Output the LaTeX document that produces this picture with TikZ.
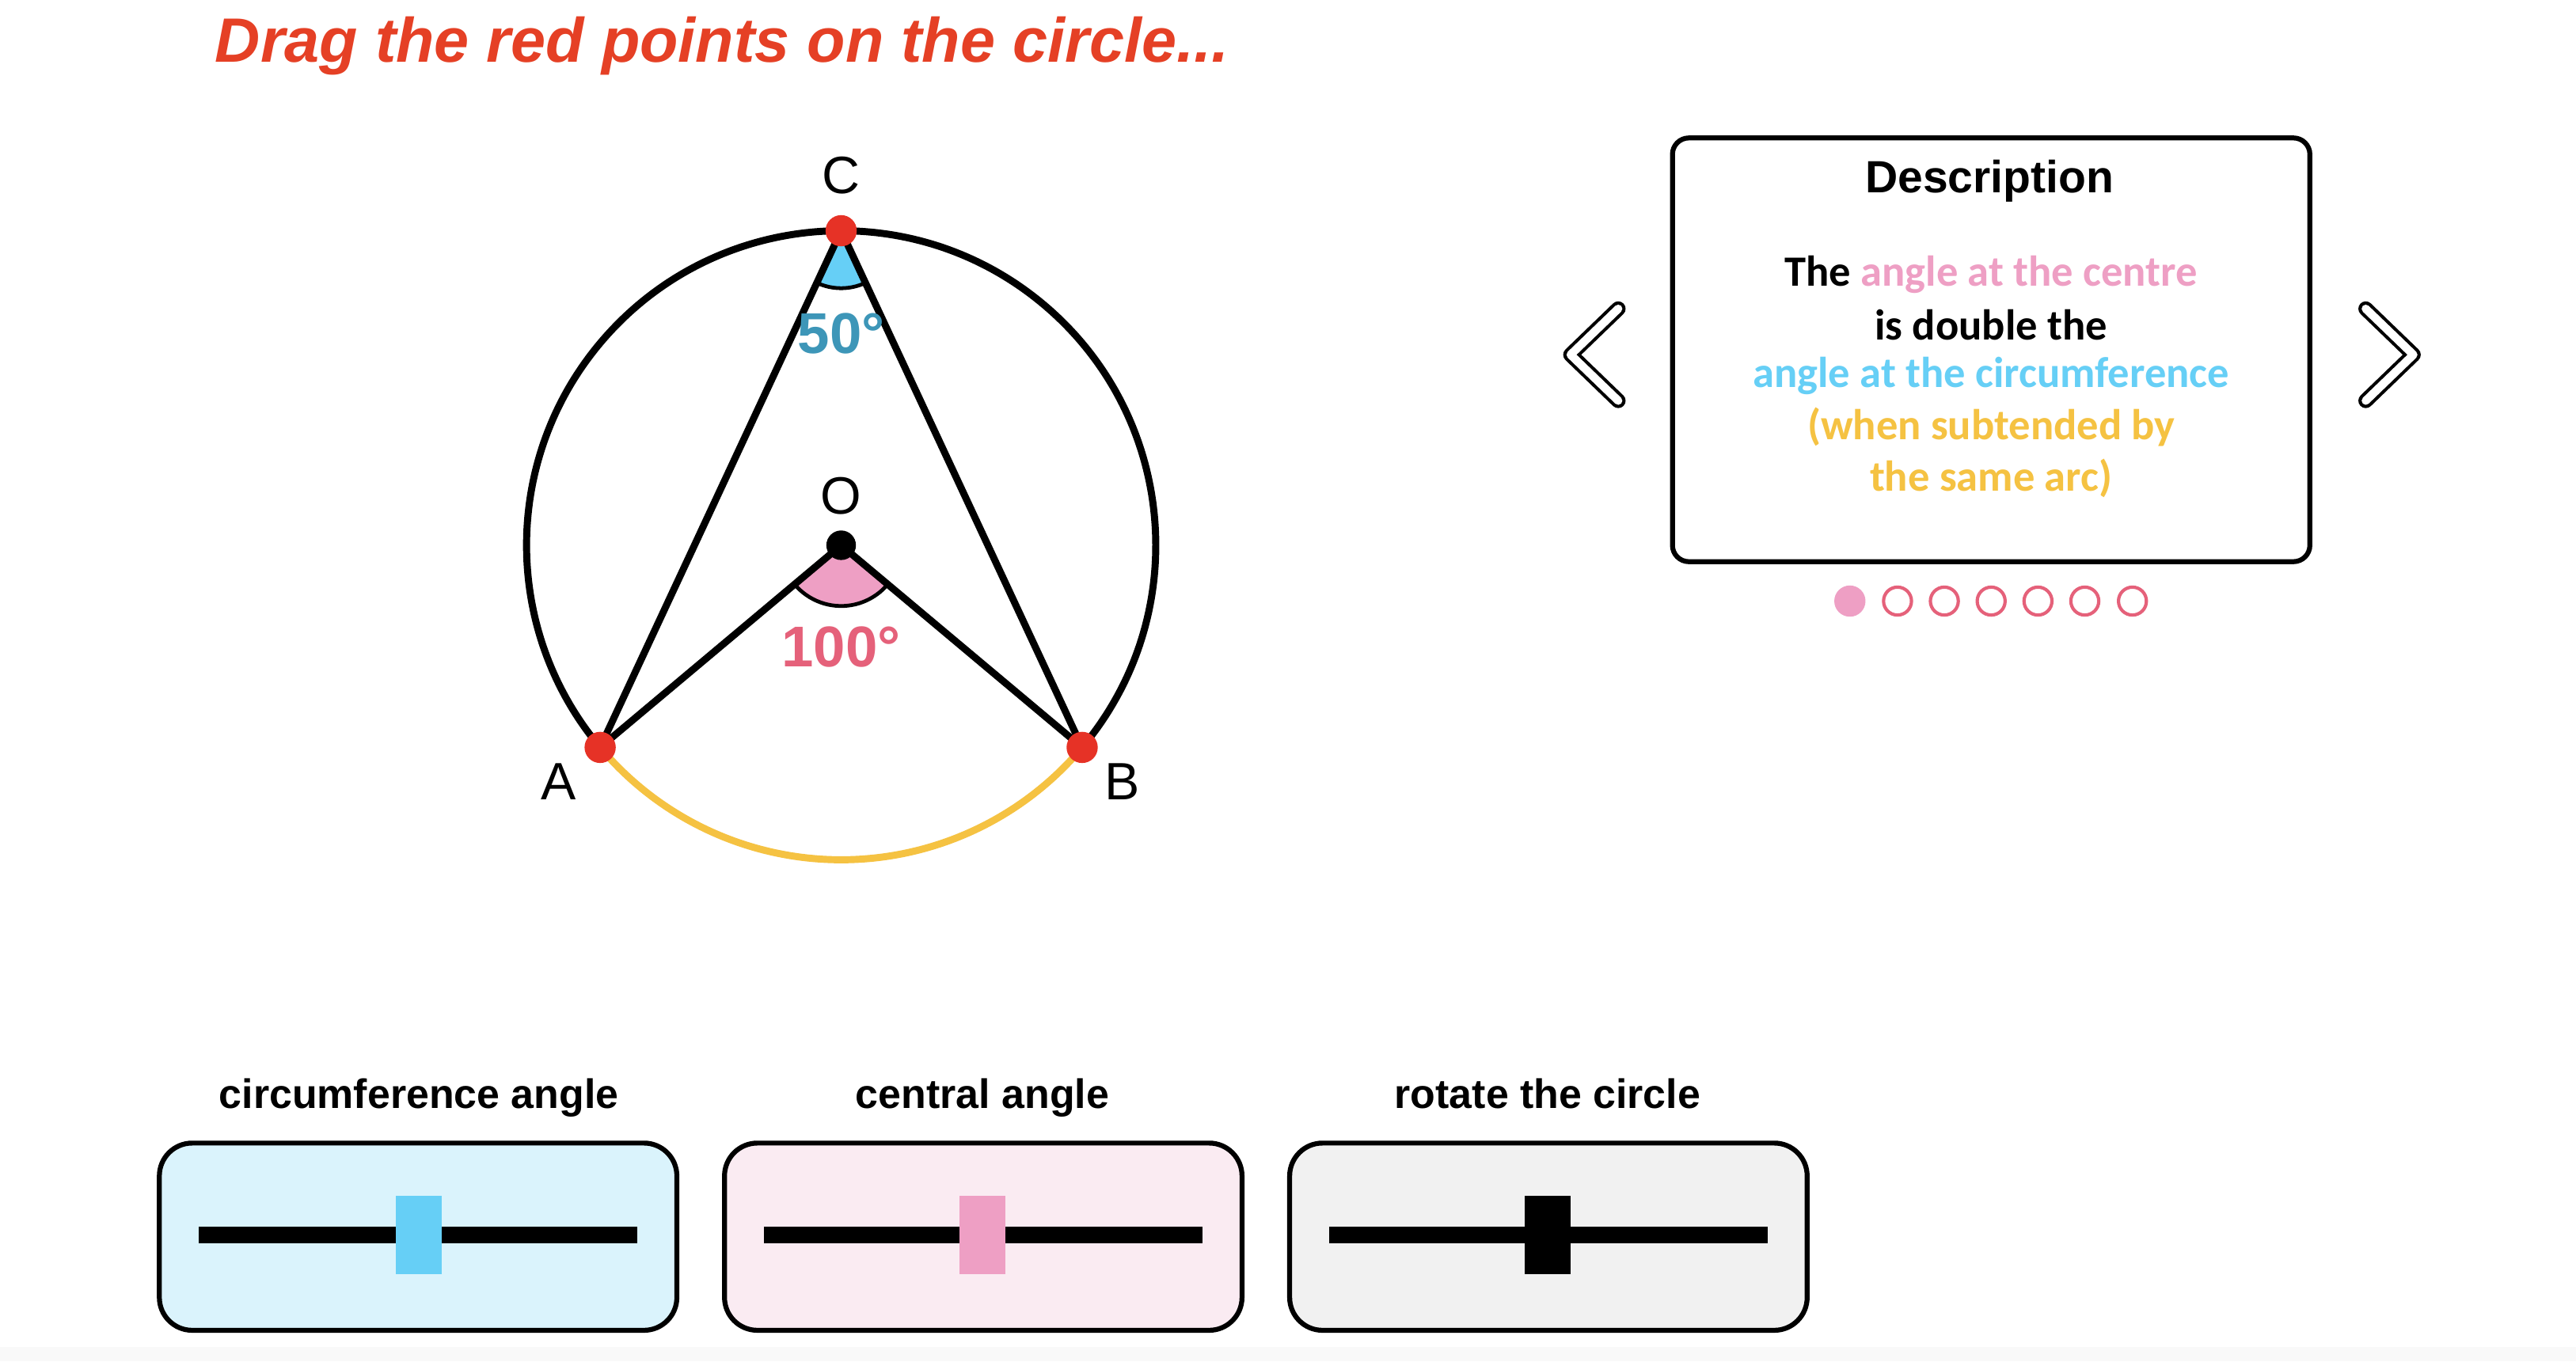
\documentclass[tikz,border=0pt]{standalone}
\usepackage{fontspec}
\setmainfont{Liberation Sans}
\newfontfamily\carlito{Carlito}
\usetikzlibrary{calc}
\definecolor{titlered}{RGB}{229,64,37}
\definecolor{dotred}{RGB}{230,50,38}
\definecolor{skyblue}{RGB}{102,207,246}
\definecolor{tealtext}{RGB}{61,150,184}
\definecolor{pinkfill}{RGB}{238,159,196}
\definecolor{rosetext}{RGB}{229,97,122}
\definecolor{gold}{RGB}{245,194,66}
\definecolor{boxblue}{RGB}{218,243,252}
\definecolor{boxpink}{RGB}{250,235,242}
\definecolor{boxgrey}{RGB}{241,241,241}
\definecolor{bandgrey}{RGB}{249,249,249}
\tikzset{
  geomline/.style={line width=4.3pt, black},
  ptlabel/.style={font=\fontsize{32}{36}\selectfont, inner sep=0pt},
  anglabel/.style={font=\bfseries\fontsize{35}{40}\selectfont, inner sep=0pt},
  desctext/.style={font=\carlito\bfseries\fontsize{26.3}{31}\selectfont, inner sep=0pt},
  sliderbox/.style={rounded corners=20pt, line width=3pt, draw=black},
  sliderlabel/.style={font=\bfseries\fontsize{25}{30}\selectfont, inner sep=0pt, anchor=base},
  sliderbar/.style={line width=10pt, black},
  chevout/.style={line width=9pt, black, line cap=round, line join=round},
  chevin/.style={line width=5pt, white, line cap=round, line join=round},
  pagedot/.style={circle, minimum size=19pt, inner sep=0pt},
}
\begin{document}
\begin{tikzpicture}[x=1pt,y=1pt]
\useasboundingbox (0,0) rectangle (1568,829);
\fill[white] (0,0) rectangle (1568,829);
\fill[bandgrey] (0,0) rectangle (1568,9);

% title
\node[inner sep=0pt, text=titlered] (title) at (439.5,801)
  {\resizebox{617pt}{!}{\bfseries\itshape Drag the red points on the circle...}};

% geometry
\coordinate (O) at (512,497);
\path (O) ++(90:191.5) coordinate (C);
\path (O) ++(220:191.5) coordinate (A);
\path (O) ++(320:191.5) coordinate (B);

% sectors
\fill[skyblue] (C) -- ++(245.2:35) arc[start angle=245.2, end angle=294.8, radius=35] -- cycle;
\draw[line width=2.3pt] (C) ++(245.2:35) arc[start angle=245.2, end angle=294.8, radius=35];
\fill[pinkfill] (O) -- ++(220:37) arc[start angle=220, end angle=320, radius=37] -- cycle;
\draw[line width=2.3pt] (O) ++(220:37) arc[start angle=220, end angle=320, radius=37];

% circle
\draw[geomline] (B) arc[start angle=320, end angle=580, radius=191.5];
\draw[line width=4.3pt, gold] (A) arc[start angle=220, end angle=320, radius=191.5];

% chords and radii
\draw[geomline, line join=round] (A) -- (C) -- (B);
\draw[geomline, line join=round] (A) -- (O) -- (B);

% points
\fill[dotred] (A) circle (9.5);
\fill[dotred] (B) circle (9.5);
\fill[dotred] (C) circle (9.5);
\fill[black] (O) circle (9);

% labels
\node[ptlabel] (lC) at (512,722) {C};
\node[ptlabel] (lO) at (512,527) {O};
\node[ptlabel] (lA) at (340,353) {A};
\node[ptlabel] (lB) at (683,353) {B};
\node[anglabel, text=tealtext] (a50) at (512,626) {50°};
\node[anglabel, text=rosetext] (a100) at (512,435) {100°};

% description box
\draw[line width=3pt, rounded corners=10pt] (1018,487) rectangle (1406,745);
\node[inner sep=0pt, font=\bfseries\fontsize{27.5}{32}\selectfont] (desc) at (1211,719) {Description};
\node[desctext] (d1) at (1212,662) {The \textcolor{pinkfill}{angle at the centre}};
\node[desctext] (d2) at (1212,631) {is double the};
\node[desctext, text=skyblue] (d3) at (1212,600) {angle at the circumference};
\node[desctext, text=gold] (d4) at (1212,569) {(when subtended by};
\node[desctext, text=gold] (d5) at (1212,538) {the same arc)};

% chevrons
\coordinate (L1) at (985,641); \coordinate (L2) at (956,613); \coordinate (L3) at (985,585);
\coordinate (R1) at (1440,641); \coordinate (R2) at (1469,613); \coordinate (R3) at (1440,585);
\draw[chevout] (L1) -- (L2) -- (L3);
\draw[chevin] (L1) -- (L2) -- (L3);
\draw[chevout] (R1) -- (R2) -- (R3);
\draw[chevin] (R1) -- (R2) -- (R3);

% page dots
\node[pagedot, fill=pinkfill] (p1) at (1126,463) {};
\foreach \i/\x in {2/1155,3/1183.5,4/1212,5/1240.5,6/1269,7/1298}
  \node[pagedot, draw=rosetext, line width=2pt, minimum size=17pt] (p\i) at (\x,463) {};

% sliders
\node[sliderlabel] (s1lab) at (255,154) {circumference angle};
\node[sliderlabel] (s2lab) at (598,154) {central angle};
\node[sliderlabel] (s3lab) at (942,154) {rotate the circle};

\draw[sliderbox, fill=boxblue] (97,19) rectangle (412,133);
\draw[sliderbox, fill=boxpink] (441,19) rectangle (756,133);
\draw[sliderbox, fill=boxgrey] (785,19) rectangle (1100,133);

\draw[sliderbar] (121,77) -- (388,77);
\draw[sliderbar] (465,77) -- (732,77);
\draw[sliderbar] (809,77) -- (1076,77);

\fill[skyblue] (241,53) rectangle (269,101);
\fill[pinkfill] (584,53) rectangle (612,101);
\fill[black] (928,53) rectangle (956,101);
\end{tikzpicture}
\end{document}
